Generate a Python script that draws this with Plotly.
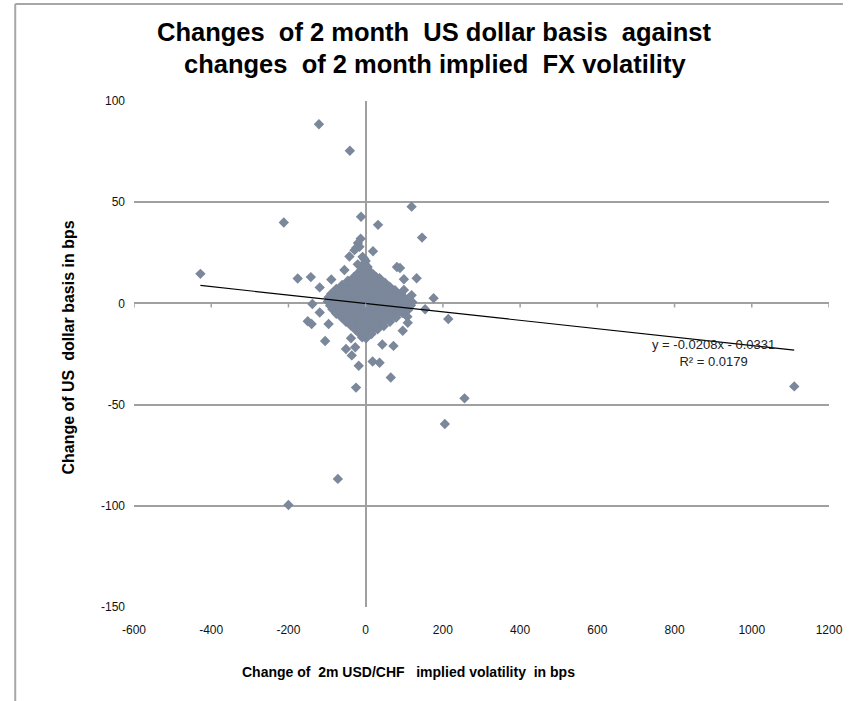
import plotly.graph_objects as go

# Changes of 2m USD/CHF implied volatility (x, bps) vs changes of 2m USD basis (y, bps)
# Scattered observations away from the centre
outlier_x = [-121, -41, -212, -12, 32, 119, 146, -13, -20, -29, 19, -42, -55, -176, -142,
             -89, -119, 81, 89, 99, 132, 99, 119, 176, 154, 214, 108, 109, 96, -150,
             -140, -119, -96, -138, -105, -51, -27, -36, -18, 18, 36, 43, 72, 65, -25,
             256, 1110, 205, -72, -200, -428, -38, -3, 5, -20.5, -8, -4, 0, -16, -24]
outlier_y = [88.5, 75.4, 40.0, 42.8, 38.8, 47.8, 32.5, 32.0, 29.8, 26.3, 25.8, 23.2, 16.5, 12.3, 13.0,
             11.8, 7.9, 18.0, 17.5, 11.9, 12.4, 6.6, 4.0, 2.6, -2.9, -7.7, -6.6, -9.6, -13.5, -8.8,
             -10.2, -4.5, -10.2, -0.3, -18.6, -22.5, -21.7, -25.7, -30.8, -28.7, -29.3, -20.3, -21.0, -36.6, -41.6,
             -46.9, -41.0, -59.6, -86.7, -99.6, 14.6, -17.2, 19.8, 18.0, 19.3, 23.0, 22.0, 21.0, 28.0, 27.5]

# Dense body of small daily changes around the origin
core_x = [-6, 2,
          -11, -1, 7,
          -19, -9, 1, 11, 20,
          -31, -19, -7, 4, 15, 27, 36,
          -46, -33, -21, -9, 3, 14, 26, 39, 50,
          -61, -48, -36, -23, -11, 1, 13, 25, 37, 51, 62,
          -76, -63, -51, -39, -26, -13, -1, 11, 24, 36, 49, 62, 76,
          -89, -76, -63, -51, -38, -25, -12, 1, 14, 27, 39, 52, 65, 79, 92,
          -96, -86, -73, -59, -46, -33, -20, -7, 6, 19, 32, 45, 58, 71, 85, 99, 112,
          -98, -91, -77, -64, -51, -38, -25, -12, 1, 14, 27, 40, 53, 66, 79, 93, 107, 121,
          -92, -83, -70, -57, -44, -31, -18, -5, 8, 21, 34, 47, 60, 73, 87, 101, 117,
          -86, -73, -60, -47, -34, -21, -8, 5, 18, 31, 44, 57, 70, 84, 99, 110,
          -76, -63, -50, -37, -24, -11, 2, 15, 28, 41, 54, 67, 81, 95,
          -63, -51, -39, -26, -13, 0, 13, 26, 39, 52, 65, 79,
          -51, -39, -27, -15, -3, 9, 22, 35, 49, 63,
          -39, -27, -15, -3, 9, 21, 34, 47,
          -26, -15, -4, 7, 19, 31,
          -16, -6, 5, 15,
          -9, 1]
core_y = [19.2, 18.4,
          16.8, 17.3, 16.5,
          15.1, 14.6, 15.4, 14.8, 14.3,
          12.9, 13.4, 12.7, 13.2, 12.6, 13.1, 12.4,
          11.2, 10.7, 11.4, 10.9, 11.3, 10.8, 11.1, 10.6, 10.2,
          9.1, 8.7, 9.3, 8.8, 9.2, 8.6, 9.0, 9.4, 8.8, 9.1, 8.3,
          7.2, 6.8, 7.3, 6.9, 7.1, 6.6, 7.4, 6.8, 7.2, 6.7, 7.0, 7.3, 6.5,
          4.8, 5.3, 4.9, 5.2, 4.7, 5.4, 5.0, 4.8, 5.3, 4.9, 5.1, 4.7, 5.2, 4.9, 4.6,
          3.1, 2.7, 3.3, 2.9, 3.2, 2.6, 3.0, 3.4, 2.8, 3.1, 2.7, 3.3, 2.9, 3.2, 2.8, 3.0, 2.5,
          0.9, 1.3, 0.8, 1.2, 0.7, 1.1, 1.4, 0.9, 1.2, 0.8, 1.3, 0.9, 1.1, 0.7, 1.2, 1.0, 0.8, 0.6,
          -1.1, -0.8, -1.3, -0.9, -1.2, -0.7, -1.0, -1.4, -0.8, -1.2, -0.9, -1.3, -0.7, -1.1, -0.9, -1.2, -1.0,
          -2.9, -3.3, -2.8, -3.2, -2.7, -3.1, -3.4, -2.9, -3.2, -2.8, -3.0, -3.3, -2.9, -3.1, -2.8, -3.2,
          -5.1, -4.8, -5.3, -4.9, -5.2, -4.7, -5.0, -5.4, -4.8, -5.1, -4.9, -5.3, -5.0, -4.8,
          -6.9, -7.3, -6.8, -7.2, -7.0, -6.7, -7.4, -6.9, -7.1, -6.8, -7.2, -7.0,
          -9.1, -8.7, -9.3, -8.9, -9.2, -8.8, -9.0, -9.4, -8.8, -9.1,
          -10.8, -11.2, -10.9, -11.3, -10.7, -11.1, -10.9, -11.2,
          -13.1, -12.7, -13.3, -12.9, -13.2, -12.8,
          -14.9, -15.3, -14.8, -15.1,
          -16.8, -17.2]

# Linear fit as reported on the chart
slope = -0.0208
intercept = -0.0331
r_squared = 0.0179

x_ticks = [-600, -400, -200, 0, 200, 400, 600, 800, 1000, 1200]
y_ticks = [-150, -100, -50, 0, 50, 100]

all_x = outlier_x + core_x
all_y = outlier_y + core_y

GRID = "#a0a0a0"
MARK = "#7b879a"
BOLD_FONT = "Liberation Sans, Arial, sans-serif"
PLAIN = "Liberation Sans, Arial, sans-serif"
SP = "\u00a0"

fig = go.Figure()

fig.add_trace(go.Scatter(
    x=all_x, y=all_y, mode="markers",
    marker=dict(symbol="diamond", size=8, color=MARK, line=dict(width=0)),
    hoverinfo="x+y",
))

fit_x = [min(all_x), max(all_x)]
fit_y = [slope * v + intercept for v in fit_x]
fig.add_trace(go.Scatter(
    x=fit_x, y=fit_y, mode="lines",
    line=dict(color="#000000", width=1.2),
    hoverinfo="skip",
))

# tick marks sitting on the horizontal zero line
shapes = [dict(type="line", xref="x", yref="y", x0=v, x1=v, y0=0, y1=-2,
               line=dict(color=GRID, width=1.5)) for v in x_ticks]
# chart-area frame (top and left edges)
shapes.append(dict(type="line", xref="paper", yref="paper", x0=-0.1709, x1=1.02,
                   y0=1.1917, y1=1.1917, line=dict(color="#a6a6a6", width=2)))
shapes.append(dict(type="line", xref="paper", yref="paper", x0=-0.1709, x1=-0.1709,
                   y0=1.1917, y1=-0.2, line=dict(color="#a6a6a6", width=2)))

annotations = [
    dict(text=f"<b>Changes{SP} of 2 month{SP} US dollar basis{SP} against</b>", xref="paper", yref="paper",
         x=0.433, y=1.136, xanchor="center", yanchor="middle", showarrow=False,
         font=dict(family=BOLD_FONT, size=25.5, color="#000000")),
    dict(text=f"<b>changes{SP} of 2 month implied{SP} FX volatility</b>", xref="paper", yref="paper",
         x=0.433, y=1.073, xanchor="center", yanchor="middle", showarrow=False,
         font=dict(family=BOLD_FONT, size=25.5, color="#000000")),
    dict(text=f"<b>Change of{SP} 2m USD/CHF{SP}{SP} implied volatility{SP} in bps</b>", xref="paper", yref="paper",
         x=0.3946, y=-0.1285, xanchor="center", yanchor="middle", showarrow=False,
         font=dict(family=BOLD_FONT, size=14, color="#000000")),
    dict(text=f"<b>Change of US{SP} dollar basis in bps</b>", xref="paper", yref="paper",
         x=-0.094, y=0.512, xanchor="center", yanchor="middle", showarrow=False, textangle=-90,
         font=dict(family=BOLD_FONT, size=16, color="#000000")),
    dict(text=f"y = {slope}x - {abs(intercept)}<br>R² = {r_squared}", xref="x", yref="y",
         x=900, y=-24.3, xanchor="center", yanchor="middle", showarrow=False, align="center",
         font=dict(family=PLAIN, size=13, color="#222222")),
]

fig.update_layout(
    width=855, height=701,
    margin=dict(l=134, r=19, t=101, b=94),
    paper_bgcolor="white", plot_bgcolor="white",
    showlegend=False,
    shapes=shapes, annotations=annotations,
    xaxis=dict(range=[-600, 1200], tickvals=x_ticks, ticktext=[str(v) for v in x_ticks],
               ticks="", showgrid=False,
               zeroline=True, zerolinecolor=GRID, zerolinewidth=1.5, showline=False,
               tickfont=dict(family=PLAIN, size=12, color="#111111"),
               ticklabelstandoff=14, fixedrange=True),
    yaxis=dict(range=[-150, 100], tickvals=y_ticks, ticktext=[str(v) for v in y_ticks],
               ticks="", showgrid=True,
               gridcolor=GRID, gridwidth=1.5, zeroline=False, showline=False,
               tickfont=dict(family=PLAIN, size=12, color="#111111"),
               ticklabelstandoff=8, fixedrange=True),
)

fig.write_html("out.html")
